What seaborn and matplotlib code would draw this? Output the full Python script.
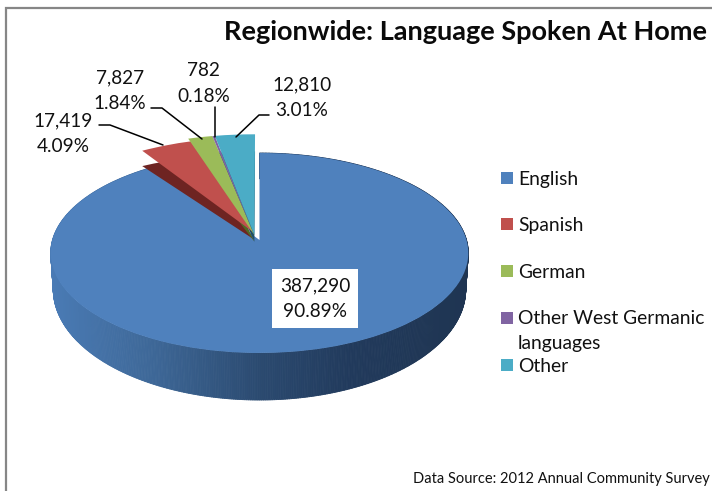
import numpy as np
import matplotlib
matplotlib.use("Agg")
import matplotlib.pyplot as plt
import seaborn as sns
from matplotlib.transforms import Transform
from matplotlib.collections import PolyCollection
from matplotlib.colors import LinearSegmentedColormap

categories = ["English", "Spanish", "German", "Other West Germanic\nlanguages", "Other"]
values = [387290, 17419, 7827, 782, 12810]
colors = ["#4F81BD", "#C0504D", "#9BBB59", "#8064A2", "#4BACC6"]
dark_colors = ["#1F3654", "#6E2422", "#4F6B24", "#3D2C5C", "#1F4F66"]
title = "Regionwide: Language Spoken At Home"
source = "Data Source: 2012 Annual Community Survey"

sns.set_theme(style="white")
plt.rcParams["font.family"] = ["Lato", "DejaVu Sans"]
TEXT = "#111111"


class Persp(Transform):
    """Tilted-disc view: pie units to pixel-like axes units."""
    input_dims = 2
    output_dims = 2
    is_separable = False
    has_inverse = False

    def __init__(self, cx, y0, rx, k, b=0.13):
        super().__init__()
        self.p = (cx, y0, rx, k, b)

    def transform_non_affine(self, values):
        cx, y0, rx, k, b = self.p
        v = np.asarray(values, float)
        w = 1 + b * v[:, 1]
        return np.column_stack([cx + rx * v[:, 0] / w, y0 - k * v[:, 1] / w])


fig = plt.figure(figsize=(7.12, 4.91), dpi=100)
ax = fig.add_axes([0, 0, 1, 1])

top = Persp(259.5, 240, 207, 98.3)
bottom = Persp(259.5, 275, 204.5, 108.75)
small_bottom = Persp(259.5, 246, 207, 88)


def pie(cols, radius=1.0, center=(0, 0)):
    w, _ = ax.pie(values, colors=cols, startangle=90, counterclock=False,
                  radius=radius, center=center, wedgeprops={"linewidth": 0})
    return w


# English: side wall with a left-to-right shade, then its top surface
eng = pie(colors)
for w in eng[1:]:
    w.set_visible(False)
eng[0].set_transform(top + ax.transData)
eng[0].set_zorder(2)

shade = LinearSegmentedColormap.from_list(
    "wall", [(0, "#4A7BB5"), (0.24, "#3E6898"), (0.5, "#2B4A70"),
             (0.72, "#213A5C"), (1, "#1F3552")])
th = np.radians(np.linspace(eng[0].theta1, eng[0].theta2, 721))
rim = np.column_stack([np.cos(th), np.sin(th)])
a, b = top.transform(rim), bottom.transform(rim)
quads = [np.array([a[i], a[i + 1], b[i + 1], b[i]]) for i in range(len(th) - 1)]
shades = [shade(np.clip((q[:, 0].mean() - 51) / 418, 0, 1)) for q in quads]
ax.add_collection(PolyCollection(quads, facecolors=shades, edgecolors=shades,
                                 linewidths=0.6, zorder=1))

# The small slices pulled out of the pie: walls, then surfaces
shift = (-0.025, 0.05)
for cols, tr, z in ((dark_colors, small_bottom, 3), (colors, top, 4)):
    ws = pie(cols, radius=1.2, center=shift)
    ws[0].set_visible(False)
    # Spanish sits a little closer in than the other small slices
    ws[1].set_radius(1.13)
    ws[1].set_center((-0.03, 0.08))
    for w in ws[1:]:
        w.set_transform(tr + ax.transData)
        w.set_zorder(z)

ax.set_aspect("auto")
ax.set_xlim(0, 712)
ax.set_ylim(491, 0)

# Frame of the chart area
ax.plot([6, 6, 712], [491, 8, 8], color="#868686", lw=1.6, zorder=6, solid_joinstyle="miter")

ax.text(466, 32, title, fontsize=19.5, fontweight="bold", color="#0a0a0a",
        ha="center", va="center", zorder=7)

# Data labels
total = sum(values)
label_xy = [(315, 298.5), (63, 134), (120, 91), (203.5, 83.5), (302, 98)]
for i, (v, (x, y)) in enumerate(zip(values, label_xy)):
    kw = {}
    if i == 0:
        kw["bbox"] = dict(facecolor="white", edgecolor="none", boxstyle="square,pad=0.42")
    ax.text(x, y, f"{v:,}\n{v / total * 100:.2f}%", fontsize=13.7, color=TEXT,
            ha="center", va="center", linespacing=1.62, zorder=7, **kw)

# Leader lines
leaders = [([99, 110, 163], [125, 125, 145]),
           ([151, 162, 202], [108, 108, 139]),
           ([215, 215], [107, 137]),
           ([269, 259, 236], [115, 115, 137])]
for xs, ys in leaders:
    ax.plot(xs, ys, color="black", lw=1.1, zorder=5)

# Legend
legend_y = [178, 224, 271, 318, 365]
for name, c, y in zip(categories, colors, legend_y):
    ax.scatter([507], [y], marker="s", s=78, color=c, linewidths=0, zorder=7)
    ax.text(518, (y if "\n" not in name else y + 12) + 1, name, fontsize=13.9, color=TEXT,
            ha="left", va="center", linespacing=1.5, zorder=7)

ax.text(710, 479, source, fontsize=10.5, color=TEXT, ha="right", va="center", zorder=7)

fig.savefig("out.png", dpi=100, facecolor="white")
